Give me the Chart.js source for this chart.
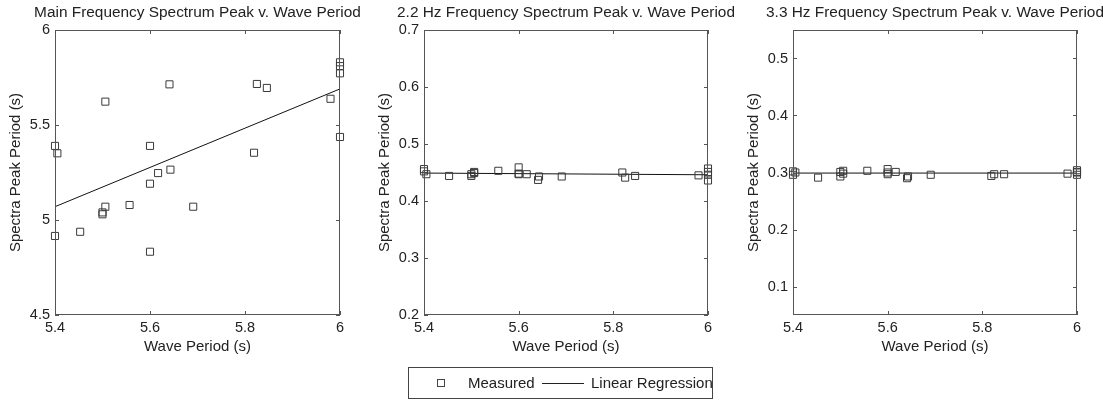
<!DOCTYPE html>
<html>
<head>
<meta charset="utf-8">
<script src="https://cdn.jsdelivr.net/npm/chart.js@4.4.1/dist/chart.umd.min.js"></script>
<style>
  body { margin: 0; background: #fff; width: 1103px; height: 400px; overflow: hidden; position: relative; }
  canvas { position: absolute; top: 0; }
  #legend { position: absolute; left: 408px; top: 367px; width: 303px; height: 30px; border: 1px solid #444;
            font: 15px "Liberation Sans", Arial, sans-serif; color: #222; }
  #legend span { position: absolute; white-space: nowrap; }
</style>
</head>
<body>
<canvas id="main" width="365" height="400" style="left:0px"></canvas>
<canvas id="hz22" width="369" height="400" style="left:369px"></canvas>
<canvas id="hz33" width="365" height="400" style="left:738px"></canvas>
<div id="legend">
  <span style="left:28px;top:11px;width:6px;height:6px;border:1px solid #444"></span>
  <span style="left:59px;top:6px">Measured</span>
  <span style="left:133px;top:15px;width:42px;border-top:1px solid #222"></span>
  <span style="left:182px;top:6px">Linear Regression</span>
</div>
<script>
// measured wave periods (s)
let wavePeriod = [5.400, 5.400, 5.405, 5.453, 5.500, 5.500, 5.506, 5.506, 5.557, 5.600, 5.600, 5.600,
                  5.617, 5.641, 5.643, 5.691, 5.819, 5.825, 5.846, 5.980, 6.000, 6.000, 6.000, 6.000];
// spectra peak periods (s)
let mainPeak = [5.390, 4.916, 5.351, 4.938, 5.030, 5.040, 5.623, 5.070, 5.079, 5.390, 5.191, 4.833,
                5.247, 5.714, 5.265, 5.070, 5.354, 5.716, 5.695, 5.638, 5.830, 5.810, 5.772, 5.437];
let peak22 = [0.456, 0.452, 0.447, 0.444, 0.447, 0.444, 0.451, 0.449, 0.453, 0.459, 0.447, 0.448,
              0.447, 0.437, 0.443, 0.443, 0.450, 0.441, 0.444, 0.445, 0.457, 0.451, 0.446, 0.436];
let peak33 = [0.302, 0.296, 0.300, 0.291, 0.301, 0.293, 0.303, 0.298, 0.303, 0.306, 0.297, 0.300,
              0.301, 0.290, 0.293, 0.296, 0.294, 0.297, 0.297, 0.298, 0.304, 0.301, 0.300, 0.296];
// regression line end points
let fitX = [5.4, 6.0];
let mainFit = [5.07, 5.69];
let fit22 = [0.449, 0.446];
let fit33 = [0.299, 0.299];
// tick labels
let xTicks = [5.4, 5.6, 5.8, 6];
let mainTicks = [4.5, 5, 5.5, 6];
let ticks22 = [0.2, 0.3, 0.4, 0.5, 0.6, 0.7];
let ticks33 = [0.1, 0.2, 0.3, 0.4, 0.5];

Chart.defaults.font.family = '"Liberation Sans", Arial, sans-serif';
Chart.defaults.color = '#222';

// box round the plot, inward ticks on all four sides, title over the plot
const framePlugin = {
	id: 'frame',
	afterDraw(chart, args, opts) {
		const ctx = chart.ctx;
		const a = chart.chartArea;
		const xs = chart.scales.x, ys = chart.scales.y;
		ctx.save();
		ctx.strokeStyle = '#555';
		ctx.lineWidth = 1;
		ctx.strokeRect(a.left + 0.5, a.top + 0.5, a.right - a.left - 1, a.bottom - a.top - 1);
		ctx.beginPath();
		xs.ticks.forEach(t => {
			const px = Math.round(xs.getPixelForValue(t.value)) + 0.5;
			ctx.moveTo(px, a.bottom); ctx.lineTo(px, a.bottom - 4);
			ctx.moveTo(px, a.top); ctx.lineTo(px, a.top + 4);
		});
		ys.ticks.forEach(t => {
			const py = Math.round(ys.getPixelForValue(t.value)) + 0.5;
			ctx.moveTo(a.left, py); ctx.lineTo(a.left + 4, py);
			ctx.moveTo(a.right, py); ctx.lineTo(a.right - 4, py);
		});
		ctx.stroke();
		ctx.fillStyle = '#222';
		ctx.font = '15.4px "Liberation Sans", Arial, sans-serif';
		ctx.textAlign = 'center';
		ctx.textBaseline = 'middle';
		ctx.fillText(opts.title, (a.left + a.right) / 2, 13);
		ctx.restore();
	}
};

function makePanel(id, title, yData, fit, yMin, yMax, yTicks, padRight) {
	return new Chart(document.getElementById(id), {
		type: 'scatter',
		data: {
			datasets: [
				{
					label: 'Measured',
					data: wavePeriod.map((x, i) => ({ x: x, y: yData[i] })),
					pointStyle: 'rect',
					pointRadius: 5,
					pointBorderWidth: 1,
					pointBorderColor: '#3a3a3a',
					pointBackgroundColor: 'rgba(0,0,0,0)',
					clip: false
				},
				{
					label: 'Linear Regression',
					type: 'line',
					data: fitX.map((x, i) => ({ x: x, y: fit[i] })),
					borderColor: '#111',
					borderWidth: 1,
					pointRadius: 0,
					fill: false,
					clip: false
				}
			]
		},
		options: {
			responsive: false,
			animation: false,
			events: [],
			layout: { padding: { top: 30, right: padRight, bottom: 40, left: 0 } },
			plugins: {
				legend: { display: false },
				tooltip: { enabled: false },
				frame: { title: title }
			},
			scales: {
				x: {
					type: 'linear',
					min: 5.4,
					max: 6,
					grid: { display: false, drawTicks: false },
					border: { display: false },
					afterBuildTicks: s => { s.ticks = xTicks.map(v => ({ value: v })); },
					afterFit: s => { s.height = 45; },
					ticks: { padding: 4, font: { size: 14.5 }, maxRotation: 0, autoSkip: false, callback: v => String(v) },
					title: { display: true, text: 'Wave Period (s)', font: { size: 15 }, padding: { top: 0, bottom: 4 } }
				},
				y: {
					type: 'linear',
					min: yMin,
					max: yMax,
					grid: { display: false, drawTicks: false },
					border: { display: false },
					afterBuildTicks: s => { s.ticks = yTicks.map(v => ({ value: v })); },
					afterFit: s => { s.width = 55; },
					ticks: { padding: 5, font: { size: 14.5 }, autoSkip: false, callback: v => String(v) },
					title: { display: true, text: 'Spectra Peak Period (s)', font: { size: 15 }, padding: { top: 7, bottom: 0 } }
				}
			}
		},
		plugins: [framePlugin]
	});
}

makePanel('main', 'Main Frequency Spectrum Peak v. Wave Period', mainPeak, mainFit, 4.5, 6, mainTicks, 25);
makePanel('hz22', '2.2 Hz Frequency Spectrum Peak v. Wave Period', peak22, fit22, 0.2, 0.7, ticks22, 30);
makePanel('hz33', '3.3 Hz Frequency Spectrum Peak v. Wave Period', peak33, fit33, 0.05, 0.55, ticks33, 26);
</script>
</body>
</html>
